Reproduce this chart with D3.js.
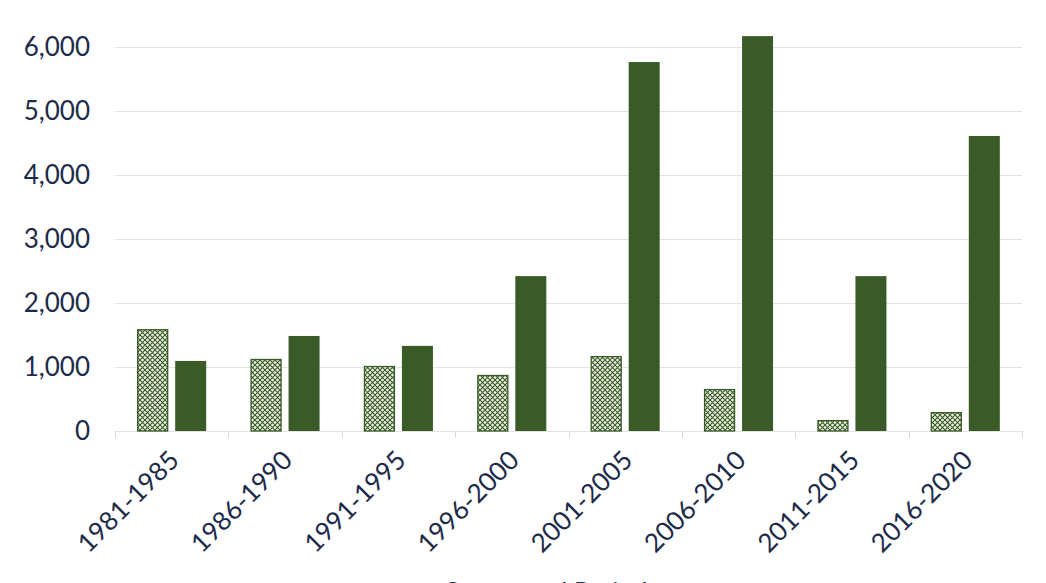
<!DOCTYPE html>
<html>
<head>
<meta charset="utf-8">
<script src="https://cdn.jsdelivr.net/npm/d3@7"></script>
<style>
  body { margin: 0; background: #fff; }
  svg { display: block; font-family: Lato, "Open Sans", sans-serif; }
</style>
</head>
<body>
<svg width="1046" height="583"></svg>
<script>
// periods on the x axis
var periods = ["1981-1985", "1986-1990", "1991-1995", "1996-2000",
               "2001-2005", "2006-2010", "2011-2015", "2016-2020"];
// patterned series (left bar in each group)
var seriesA = [1590, 1125, 1015, 875, 1170, 655, 170, 295];
// solid series (right bar in each group)
var seriesB = [1095, 1485, 1330, 2420, 5765, 6170, 2420, 4610];
var yTicks = [0, 1000, 2000, 3000, 4000, 5000, 6000];

var svg = d3.select("svg");
var textColor = "#1d2b4a",
    green = "#3a5a27",
    gridColor = "#e3e3e3";

var x = d3.scaleBand()
    .domain(periods)
    .range([115, 1022]);

var y = d3.scaleLinear()
    .domain([0, 6000])
    .range([431, 47]);

// hatch pattern for the first series
var defs = svg.append("defs");
var pat = defs.append("pattern")
    .attr("id", "hatch")
    .attr("patternUnits", "userSpaceOnUse")
    .attr("width", 5)
    .attr("height", 5);
pat.append("rect").attr("width", 5).attr("height", 5).attr("fill", "#eef3e6");
pat.append("path")
    .attr("d", "M0,0 L5,5 M5,0 L0,5")
    .attr("stroke", green)
    .attr("stroke-width", 1.1);

// gridlines
svg.append("g")
    .selectAll("line")
    .data(yTicks)
    .enter().append("line")
    .attr("x1", 115)
    .attr("x2", 1022)
    .attr("y1", function(d) { return Math.round(y(d)) + 0.5; })
    .attr("y2", function(d) { return Math.round(y(d)) + 0.5; })
    .attr("stroke", gridColor)
    .attr("stroke-width", 1);

// y axis labels
svg.append("g")
    .selectAll("text")
    .data(yTicks)
    .enter().append("text")
    .attr("x", 90)
    .attr("y", function(d) { return y(d); })
    .attr("dy", "0.35em")
    .attr("text-anchor", "end")
    .style("font-size", "26px")
    .style("fill", textColor)
    .text(function(d) { return d3.format(",")(d); });

// category tick marks
var bounds = periods.map(function(p) { return x(p); }).concat([x.range()[1]]);
svg.append("g")
    .selectAll("line")
    .data(bounds)
    .enter().append("line")
    .attr("x1", function(d) { return Math.round(d) + 0.5; })
    .attr("x2", function(d) { return Math.round(d) + 0.5; })
    .attr("y1", 431)
    .attr("y2", 438)
    .attr("stroke", "#d9d9d9");

var barW = 31, gap = 7;

svg.append("g")
    .selectAll("rect")
    .data(seriesA)
    .enter().append("rect")
    .attr("x", function(d, i) { return x(periods[i]) + x.bandwidth() / 2 - gap / 2 - barW + 0.5; })
    .attr("y", function(d) { return y(d) + 0.5; })
    .attr("width", barW - 1)
    .attr("height", function(d) { return y(0) - y(d) - 0.5; })
    .attr("fill", "url(#hatch)")
    .attr("stroke", green)
    .attr("stroke-width", 1.3);

svg.append("g")
    .selectAll("rect")
    .data(seriesB)
    .enter().append("rect")
    .attr("x", function(d, i) { return x(periods[i]) + x.bandwidth() / 2 + gap / 2; })
    .attr("y", function(d) { return y(d); })
    .attr("width", barW)
    .attr("height", function(d) { return y(0) - y(d); })
    .attr("fill", green);

// rotated category labels
svg.append("g")
    .selectAll("text")
    .data(periods)
    .enter().append("text")
    .attr("transform", function(d) {
        return "translate(" + (x(d) + x.bandwidth() / 2 - 4) + ",449) rotate(-45)";
    })
    .attr("text-anchor", "end")
    .attr("dy", "0.7em")
    .style("font-size", "26px")
    .style("fill", textColor)
    .text(function(d) { return d; });

// axis title, cut off at the bottom edge as in the source
svg.append("text")
    .attr("x", 545)
    .attr("y", 602)
    .attr("text-anchor", "middle")
    .style("font-size", "26px")
    .style("fill", textColor)
    .text("Omzet and Period");
</script>
</body>
</html>
